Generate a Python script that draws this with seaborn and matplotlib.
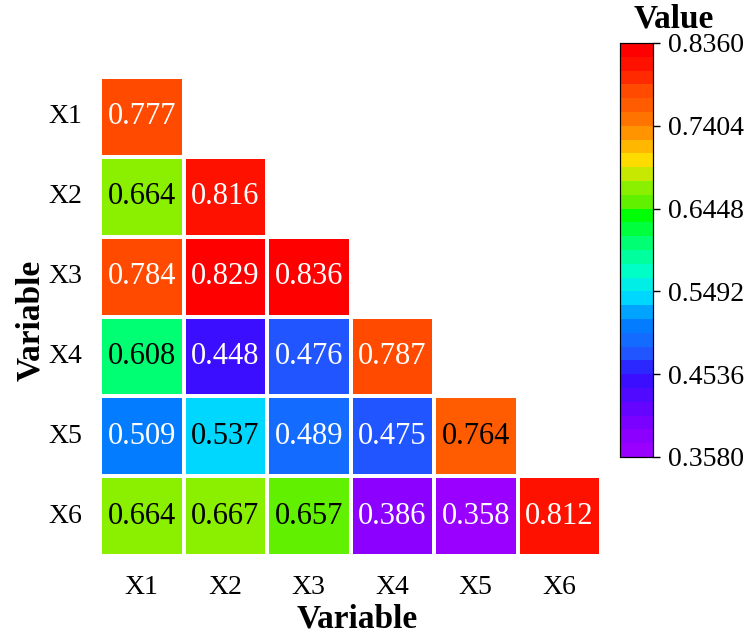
import numpy as np
import pandas as pd
import matplotlib
matplotlib.use("Agg")
import matplotlib.pyplot as plt
from matplotlib.colors import LinearSegmentedColormap
import seaborn as sns

labels = ["X1", "X2", "X3", "X4", "X5", "X6"]
row_x1 = [0.777]
row_x2 = [0.664, 0.816]
row_x3 = [0.784, 0.829, 0.836]
row_x4 = [0.608, 0.448, 0.476, 0.787]
row_x5 = [0.509, 0.537, 0.489, 0.475, 0.764]
row_x6 = [0.664, 0.667, 0.657, 0.386, 0.358, 0.812]
rows = [row_x1, row_x2, row_x3, row_x4, row_x5, row_x6]
vmin, vmax = 0.3580, 0.8360

n = len(labels)
mat = np.full((n, n), np.nan)
for i, r in enumerate(rows):
    mat[i, :len(r)] = r
df = pd.DataFrame(mat, index=labels, columns=labels)
mask = np.triu(np.ones((n, n), dtype=bool), k=1)

sns.set_style("white")
plt.rcParams['font.family'] = ['Liberation Serif', 'DejaVu Serif']
plt.rcParams['text.color'] = 'black'
plt.rcParams['axes.labelcolor'] = 'black'
plt.rcParams['xtick.color'] = 'black'
plt.rcParams['ytick.color'] = 'black'

anchors = [
    (0.00, "#9900ff"),
    (0.06, "#8000ff"),
    (0.19, "#3010ff"),
    (0.25, "#1e60ff"),
    (0.32, "#0080ff"),
    (0.38, "#00d8ff"),
    (0.44, "#00ffd0"),
    (0.52, "#00ff70"),
    (0.59, "#00ff00"),
    (0.62, "#60f000"),
    (0.66, "#90f000"),
    (0.72, "#ffe000"),
    (0.78, "#ffa000"),
    (0.85, "#ff6000"),
    (0.89, "#ff5000"),
    (0.95, "#ff1800"),
    (1.00, "#ff0000"),
]
cmap = LinearSegmentedColormap.from_list("rb", anchors, N=30)

fig = plt.figure(figsize=(7.55, 6.4), dpi=100)
ax = fig.add_axes([100/755, 1-556/640, 501/755, 479/640])
cax = fig.add_axes([620/755, 1-457/640, 33/755, 414/640])

sns.heatmap(df, mask=mask, cmap=cmap, vmin=vmin, vmax=vmax, annot=True, fmt=".3f",
            annot_kws={"fontsize": 22}, linewidths=1.5, linecolor="white",
            ax=ax, cbar_ax=cax, square=False)

for t in ax.texts:
    v = float(t.get_text())
    t.set_color("black" if 0.52 <= v <= 0.77 else "white")

ax.tick_params(axis="x", length=0, labelsize=20, pad=14, colors="black")
ax.tick_params(axis="y", length=0, labelsize=20, pad=13, colors="black")
ax.set_yticklabels(labels, rotation=0)
ax.set_xticklabels(labels, rotation=0)
ax.set_xlabel("Variable", fontsize=24, fontweight="bold", color="black")
ax.set_ylabel("Variable", fontsize=24, fontweight="bold", color="black")
ax.xaxis.set_label_coords((357-100)/501, (556-604)/479)
ax.yaxis.set_label_coords((46-100)/501, (556-320)/479)

ticks = np.linspace(vmin, vmax, 6)
cax.set_yticks(ticks)
cax.set_yticklabels([f"{t:.4f}" for t in ticks])
cax.tick_params(labelsize=20, length=5, width=1, direction="out", right=True, pad=6, colors="black")
for s in cax.spines.values():
    s.set_visible(True)
    s.set_color("black")
    s.set_linewidth(0.8)
fig.text(674/755, 1-3/640, "Value", fontsize=24, fontweight="bold", ha="center", va="top", color="black")

fig.savefig("out.png", dpi=100)
